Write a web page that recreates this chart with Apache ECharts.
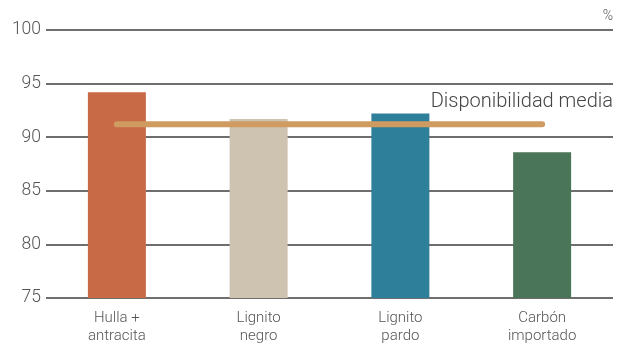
<!DOCTYPE html>
<html>
<head>
<meta charset="utf-8">
<script src="https://cdn.jsdelivr.net/npm/echarts@6/dist/echarts.min.js"></script>
<style>
  html, body { margin: 0; padding: 0; background: #fff; }
  #chart { width: 627px; height: 345px; }
</style>
</head>
<body>
<div id="chart"></div>
<script>
// valores
var categorias = ['Hulla +\nantracita', 'Lignito\nnegro', 'Lignito\npardo', 'Carbón\nimportado'];
var disponibilidad = [94.2, 91.7, 92.2, 88.6];
var media = [91.2, 91.2, 91.2, 91.2];
var colores = ['#c96a47', '#cdc3b0', '#2e7f99', '#4a7558'];
var fuente = 'Roboto';

var chartDom = document.getElementById('chart');
var myChart = echarts.init(chartDom);
var option;

option = {
  animation: false,
  grid: {
    left: 46,
    right: 14,
    top: 30,
    bottom: 46
  },
  xAxis: {
    type: 'category',
    data: categorias,
    axisLine: { show: false },
    axisTick: { show: false },
    axisLabel: {
      margin: 11,
      fontSize: 15,
      lineHeight: 18,
      color: '#555',
      fontWeight: 300,
      fontFamily: fuente
    }
  },
  yAxis: {
    type: 'value',
    min: 75,
    max: 100,
    interval: 5,
    axisLine: { show: false },
    axisTick: { show: false },
    axisLabel: {
      margin: 5,
      fontSize: 17.5,
      color: '#555',
      fontWeight: 300,
      fontFamily: fuente
    },
    splitLine: {
      lineStyle: { color: '#6e6e6e', width: 2 }
    }
  },
  series: [
    {
      type: 'bar',
      data: disponibilidad.map(function (v, i) {
        return { value: v, itemStyle: { color: colores[i] } };
      }),
      barWidth: 58,
      z: 2
    },
    {
      type: 'line',
      data: media,
      symbol: 'none',
      lineStyle: { color: '#cf9b60', width: 6, cap: 'round' },
      z: 3
    }
  ],
  graphic: [
    {
      type: 'text',
      right: 14,
      top: 92,
      style: {
        text: 'Disponibilidad media',
        fontSize: 20,
        fontWeight: 300,
        fill: '#444',
        fontFamily: fuente
      }
    },
    {
      type: 'text',
      right: 14,
      top: 9,
      style: {
        text: '%',
        fontSize: 14,
        fontWeight: 300,
        fill: '#555',
        fontFamily: fuente
      }
    }
  ]
};

myChart.setOption(option);
</script>
</body>
</html>
